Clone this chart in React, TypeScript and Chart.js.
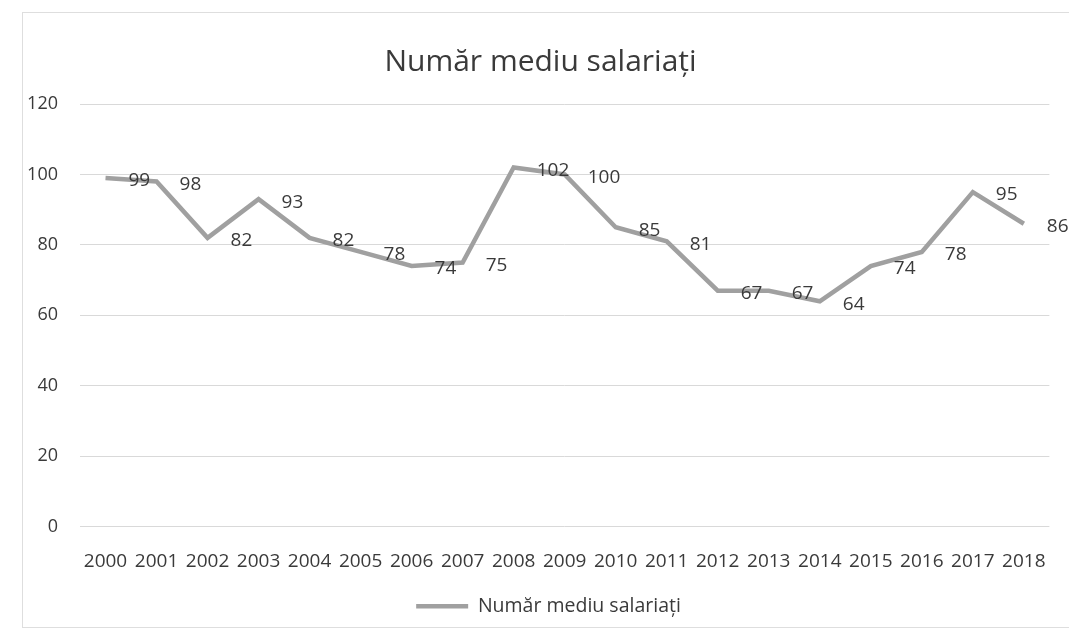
import React, { useEffect, useRef } from "react";
import { Chart, registerables } from "chart.js";

Chart.register(...registerables);

const years = ["2000","2001","2002","2003","2004","2005","2006","2007","2008","2009","2010","2011","2012","2013","2014","2015","2016","2017","2018"];
const salariati = [99, 98, 82, 93, 82, 78, 74, 75, 102, 100, 85, 81, 67, 67, 64, 74, 78, 95, 86];
const seriesName = "Număr mediu salariați";
const chartTitle = "Număr mediu salariați";

const FONT = "'Open Sans', sans-serif";
const TEXT = "#3a3a3a";
const LINE = "#a0a0a0";

const labelPlugin = {
  id: "pointLabels",
  afterDatasetsDraw(chart: any) {
    const ctx = chart.ctx;
    const meta = chart.getDatasetMeta(0);
    const data = chart.data.datasets[0].data;
    ctx.save();
    ctx.font = `19px ${FONT}`;
    ctx.fillStyle = TEXT;
    ctx.textAlign = "left";
    ctx.textBaseline = "middle";
    meta.data.forEach((pt: any, i: number) => {
      ctx.fillText(String(data[i]), pt.x + 23, pt.y + 3);
    });
    ctx.restore();
  },
};

const framePlugin = {
  id: "frame",
  beforeDraw(chart: any) {
    const ctx = chart.ctx;
    ctx.save();
    ctx.fillStyle = "#ffffff";
    ctx.fillRect(0, 0, chart.width, chart.height);
    ctx.strokeStyle = "#dedede";
    ctx.lineWidth = 1;
    ctx.strokeRect(22.5, 12.5, chart.width + 20, chart.height - 20);
    ctx.restore();
  },
};

const shiftPlugin = {
  id: "boxShift",
  afterLayout(chart: any) {
    if (chart.legend) {
      chart.legend.left += 22;
      chart.legend.right += 22;
    }
    if (chart.titleBlock) {
      chart.titleBlock.left += 14;
      chart.titleBlock.right += 14;
    }
  },
};

export default function App() {
  const ref = useRef<HTMLCanvasElement>(null);
  useEffect(() => {
    document.body.style.margin = "0";
    const chart = new Chart(ref.current!, {
      type: "line",
      data: {
        labels: years,
        datasets: [
          {
            label: seriesName,
            data: salariati,
            borderColor: LINE,
            backgroundColor: LINE,
            borderWidth: 4.5,
            pointRadius: 0,
            tension: 0,
          },
        ],
      },
      options: {
        animation: false,
        responsive: false,
        layout: { padding: { left: 0, right: 16, top: 0, bottom: 9 } },
        plugins: {
          title: {
            display: true,
            text: chartTitle,
            color: TEXT,
            font: { family: FONT, size: 30, weight: "normal" },
            padding: { top: 44, bottom: 24 },
          },
          legend: {
            position: "bottom",
            labels: {
              color: TEXT,
              font: { family: FONT, size: 19.5 },
              usePointStyle: true,
              pointStyle: "line",
              pointStyleWidth: 52,
              boxHeight: 4,
              padding: 1,
            },
          },
          tooltip: { enabled: false },
        },
        scales: {
          x: {
            offset: true,
            grid: { display: false, drawTicks: false },
            border: { display: false },
            ticks: {
              color: TEXT,
              font: { family: FONT, size: 19 },
              padding: 23,
              maxRotation: 0,
              autoSkip: false,
            },
          },
          y: {
            min: 0,
            max: 120,
            grid: { color: "#d9d9d9", drawTicks: false },
            border: { display: false },
            ticks: {
              stepSize: 20,
              color: TEXT,
              font: { family: FONT, size: 18 },
              padding: 22,
            },
            afterFit(scale: any) {
              scale.width = 80;
            },
          },
        },
      },
      plugins: [framePlugin, labelPlugin, shiftPlugin],
    });
    return () => chart.destroy();
  }, []);
  return (
    <div style={{ width: 1069, height: 635 }}>
      <canvas ref={ref} width={1069} height={635} />
    </div>
  );
}
